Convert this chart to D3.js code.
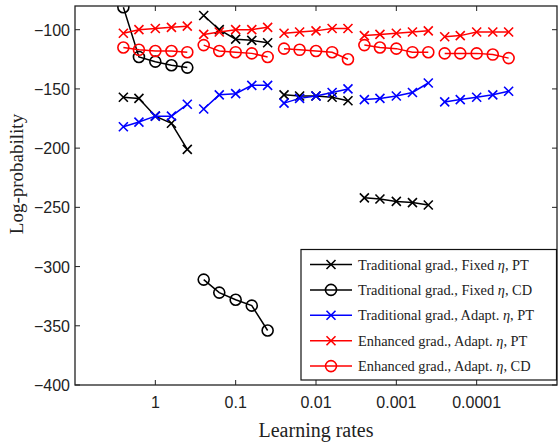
<!DOCTYPE html>
<html>
<head>
<meta charset="utf-8">
<script src="https://cdn.jsdelivr.net/npm/d3@7"></script>
<style>
  body { margin: 0; background: #fff; }
  .tick-label { font-family: "Liberation Sans", Arial, sans-serif; font-size: 16px; fill: #222; }
  .axis-title { font-family: "Liberation Serif", "Times New Roman", serif; fill: #222; }
  .legend-text { font-family: "Liberation Serif", "Times New Roman", serif; font-size: 14.4px; fill: #222; }
</style>
</head>
<body>
<div id="chart"></div>
<script>
// Learning rates (one group of five runs around each of them)
var learningRates = [1, 0.1, 0.01, 0.001, 0.0001];
// multiplier of each run inside a group (spread of 0.2 decades)
var runOffsets = [2.5, 1.6, 1, 0.63, 0.4];
var xTicks = [1, 0.1, 0.01, 0.001, 0.0001];
var yTicks = [-400, -350, -300, -250, -200, -150, -100];

// one row per learning rate, null when the method was not run
var tradFixedPT = [
  [-157, -158, -173, -179, -201],
  [-88, -100, -108, -109, -111],
  [-155, -156, -156, -157, -160],
  [-242, -243, -245, -246, -248],
  null
];
var tradFixedCD = [
  [-81, -123, -127, -130, -132],
  [-311, -322, -328, -333, -354],
  null,
  null,
  null
];
var tradAdaptPT = [
  [-182, -178, -173, -173, -163],
  [-167, -155, -154, -147, -147],
  [-162, -158, -156, -153, -150],
  [-159, -158, -156, -153, -145],
  [-161, -159, -157, -155, -152]
];
var enhAdaptPT = [
  [-103, -100, -99, -98, -97],
  [-104, -102, -100, -100, -98],
  [-103, -102, -101, -99, -99],
  [-105, -104, -103, -102, -101],
  [-106, -105, -102, -102, -102]
];
var enhAdaptCD = [
  [-115, -117, -118, -118, -119],
  [-113, -118, -119, -120, -123],
  [-116, -117, -118, -119, -125],
  [-113, -115, -116, -119, -119],
  [-120, -120, -120, -121, -124]
];

// legend names split around the eta so it can be set in italics
var seriesNames = [
  ["Traditional grad., Fixed ", ", PT"],
  ["Traditional grad., Fixed ", ", CD"],
  ["Traditional grad., Adapt. ", ", PT"],
  ["Enhanced grad., Adapt. ", ", PT"],
  ["Enhanced grad., Adapt. ", ", CD"]
];
var seriesColors = ["#000", "#000", "#0000ff", "#ff0000", "#ff0000"];
var seriesMarkers = ["x", "o", "x", "x", "o"];

var series = [tradFixedPT, tradFixedCD, tradAdaptPT, enhAdaptPT, enhAdaptCD].map(function(rows, i) {
  return { name: seriesNames[i], color: seriesColors[i], marker: seriesMarkers[i], rows: rows };
});

var width = 559, height = 444;
var margin = {top: 6, right: 2, bottom: 59, left: 75};

var svg = d3.select("#chart").append("svg")
    .attr("width", width)
    .attr("height", height);

// log scale, reversed: big learning rates on the left
var x = d3.scaleLog()
    .domain([10, 1e-5])
    .range([margin.left, width - margin.right]);

var y = d3.scaleLinear()
    .domain([-400, -80])
    .range([height - margin.bottom, margin.top]);

svg.append("clipPath").attr("id", "plot-clip")
  .append("rect")
    .attr("x", x.range()[0]).attr("y", y.range()[1])
    .attr("width", x.range()[1] - x.range()[0])
    .attr("height", y.range()[0] - y.range()[1]);

var fmtY = function(d) { return d < 0 ? "\u2212" + Math.abs(d) : d; };
var tickLen = 5;
var x0 = x.range()[0], x1 = x.range()[1], y0 = y.range()[0], y1 = y.range()[1];

// ticks drawn inward on all four sides (like matlab)
var ticks = svg.append("g").attr("stroke", "#222").attr("stroke-width", 1);
xTicks.forEach(function(t) {
  ticks.append("line").attr("x1", x(t)).attr("x2", x(t)).attr("y1", y0).attr("y2", y0 - tickLen);
  ticks.append("line").attr("x1", x(t)).attr("x2", x(t)).attr("y1", y1).attr("y2", y1 + tickLen);
});
yTicks.forEach(function(t) {
  ticks.append("line").attr("x1", x0).attr("x2", x0 + tickLen).attr("y1", y(t)).attr("y2", y(t));
  ticks.append("line").attr("x1", x1).attr("x2", x1 - tickLen).attr("y1", y(t)).attr("y2", y(t));
});

svg.append("g").selectAll("text").data(xTicks).enter().append("text")
    .attr("class", "tick-label")
    .attr("x", function(d) { return x(d); })
    .attr("y", y0 + 23)
    .attr("text-anchor", "middle")
    .text(function(d) { return d; });

svg.append("g").selectAll("text").data(yTicks).enter().append("text")
    .attr("class", "tick-label")
    .attr("x", x0 - 5)
    .attr("y", function(d) { return y(d) + 6; })
    .attr("text-anchor", "end")
    .text(fmtY);

// data
var line = d3.line()
    .x(function(d) { return x(d.x); })
    .y(function(d) { return y(d.y); });

function drawMarker(g, type, color, cx, cy) {
  if (type === "o") {
    g.append("circle").attr("cx", cx).attr("cy", cy).attr("r", 5.5)
      .attr("fill", "none").attr("stroke", color).attr("stroke-width", 1.6);
  } else {
    var s = 4.5;
    g.append("path")
      .attr("d", "M" + (cx - s) + "," + (cy - s) + "L" + (cx + s) + "," + (cy + s) +
                 "M" + (cx - s) + "," + (cy + s) + "L" + (cx + s) + "," + (cy - s))
      .attr("stroke", color).attr("stroke-width", 1.6).attr("fill", "none");
  }
}

var plot = svg.append("g").attr("clip-path", "url(#plot-clip)");
series.forEach(function(s) {
  var g = plot.append("g");
  s.rows.forEach(function(row, gi) {
    if (!row) return;
    var pts = row.map(function(v, k) { return {x: learningRates[gi] * runOffsets[k], y: v}; });
    g.append("path").attr("d", line(pts))
      .attr("fill", "none").attr("stroke", s.color).attr("stroke-width", 1.5);
    pts.forEach(function(p) { drawMarker(g, s.marker, s.color, x(p.x), y(p.y)); });
  });
});

// frame
svg.append("rect")
    .attr("x", x0).attr("y", y1)
    .attr("width", x1 - x0).attr("height", y0 - y1)
    .attr("fill", "none").attr("stroke", "#222").attr("stroke-width", 1.3);

// axis titles
svg.append("text").attr("class", "axis-title")
    .attr("x", (x0 + x1) / 2).attr("y", 437)
    .attr("text-anchor", "middle")
    .style("font-size", "20px")
    .text("Learning rates");

svg.append("text").attr("class", "axis-title")
    .attr("transform", "translate(23," + 174 + ") rotate(-90)")
    .attr("text-anchor", "middle")
    .style("font-size", "19px")
    .text("Log-probability");

// legend
var lg = svg.append("g");
lg.append("rect")
    .attr("x", 301).attr("y", 249.5)
    .attr("width", 255.5).attr("height", 130.5)
    .attr("fill", "#fff").attr("stroke", "#111").attr("stroke-width", 1.2);

series.forEach(function(s, i) {
  var ry = 264.5 + i * 25.4;
  lg.append("line").attr("x1", 310).attr("x2", 352).attr("y1", ry).attr("y2", ry)
    .attr("stroke", s.color).attr("stroke-width", 1.5);
  drawMarker(lg, s.marker, s.color, 331, ry);
  var t = lg.append("text").attr("class", "legend-text")
    .attr("x", 358).attr("y", ry + 5);
  t.append("tspan").text(s.name[0]);
  t.append("tspan").style("font-style", "italic").text("η");
  t.append("tspan").text(s.name[1]);
});
</script>
</body>
</html>
